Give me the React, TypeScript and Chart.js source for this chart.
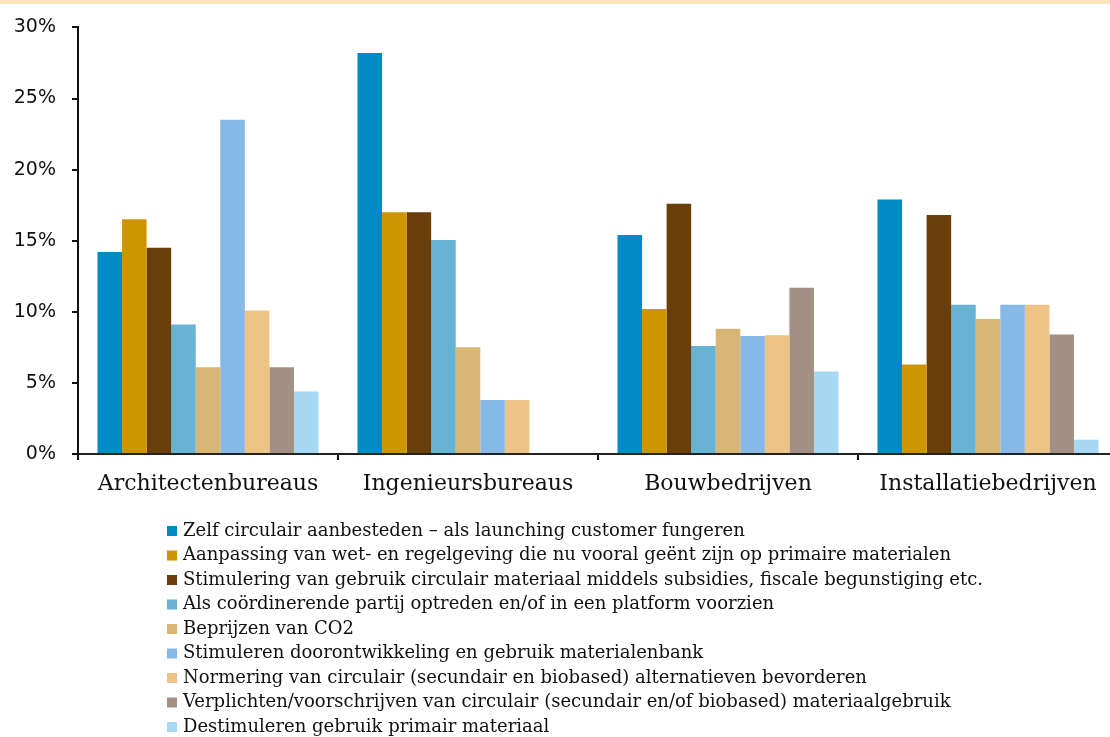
import React, { useEffect, useRef } from "react";
import { Chart, registerables } from "chart.js";

Chart.register(...registerables);

const categories = ["Architectenbureaus", "Ingenieursbureaus", "Bouwbedrijven", "Installatiebedrijven"];

const seriesLabels = [
  "Zelf circulair aanbesteden – als launching customer fungeren",
  "Aanpassing van wet- en regelgeving die nu vooral geënt zijn op primaire materialen",
  "Stimulering van gebruik circulair materiaal middels subsidies, fiscale begunstiging etc.",
  "Als coördinerende partij optreden en/of in een platform voorzien",
  "Beprijzen van CO2",
  "Stimuleren doorontwikkeling en gebruik materialenbank",
  "Normering van circulair (secundair en biobased) alternatieven bevorderen",
  "Verplichten/voorschrijven van circulair (secundair en/of biobased) materiaalgebruik",
  "Destimuleren gebruik primair materiaal",
];

const zelfAanbesteden = [14.2, 28.2, 15.4, 17.9];
const wetgeving = [16.5, 17.0, 10.2, 6.3];
const subsidies = [14.5, 17.0, 17.6, 16.8];
const platform = [9.1, 15.05, 7.6, 10.5];
const co2 = [6.1, 7.5, 8.8, 9.5];
const materialenbank = [23.5, 3.8, 8.3, 10.5];
const normering = [10.1, 3.8, 8.35, 10.5];
const verplichten = [6.1, 0, 11.7, 8.4];
const destimuleren = [4.4, 0, 5.8, 1.0];

const seriesColors = ["#008BC6", "#CF9500", "#693E08", "#66B3D4", "#D9B673", "#86B9E6", "#EEC386", "#A39084", "#A6D8F2"];

const yTicks = [0, 5, 10, 15, 20, 25, 30];

const seriesValues = [zelfAanbesteden, wetgeving, subsidies, platform, co2, materialenbank, normering, verplichten, destimuleren];

const legendPlugin = {
  id: "listLegend",
  afterDraw(chart: any) {
    const ctx = chart.ctx;
    ctx.save();
    ctx.fillStyle = "#FCE5BE";
    ctx.fillRect(0, 0, chart.width, 4);
    ctx.font = "18px 'DejaVu Serif'";
    ctx.textBaseline = "middle";
    ctx.textAlign = "left";
    chart.data.datasets.forEach((ds: any, i: number) => {
      const y = 531 + i * 24.5;
      ctx.fillStyle = ds.backgroundColor;
      ctx.fillRect(167, y - 5, 10, 10);
      ctx.fillStyle = "#111";
      ctx.fillText(ds.label, 183, y);
    });
    ctx.restore();
  },
};

export default function App() {
  const ref = useRef<HTMLCanvasElement | null>(null);
  useEffect(() => {
    if (!ref.current) return;
    const chart = new Chart(ref.current, {
      type: "bar",
      data: {
        labels: categories,
        datasets: seriesLabels.map((label, i) => ({
          label,
          data: seriesValues[i],
          backgroundColor: seriesColors[i],
          borderWidth: 0,
        })),
      },
      options: {
        responsive: false,
        animation: false,
        devicePixelRatio: 1,
        layout: { padding: { top: 26, left: 0, right: 0, bottom: 233 } },
        plugins: { legend: { display: false }, tooltip: { enabled: false } },
        datasets: { bar: { categoryPercentage: 0.85, barPercentage: 1 } },
        scales: {
          x: {
            grid: { display: true, drawOnChartArea: false, drawTicks: true, tickLength: 6, lineWidth: 2, color: "#111", offset: true },
            border: { display: true, color: "#222", width: 2 },
            ticks: { color: "#111", font: { family: "'DejaVu Serif'", size: 22 }, padding: 11, maxRotation: 0 },
            afterFit: (s: any) => { s.height = 50; },
          },
          y: {
            min: 0,
            max: 30,
            afterBuildTicks: (s: any) => { s.ticks = yTicks.map((v) => ({ value: v })); },
            grid: { display: true, drawOnChartArea: false, drawTicks: true, tickLength: 6, lineWidth: 2, color: "#111" },
            border: { display: true, color: "#111", width: 2 },
            ticks: { color: "#111", font: { family: "'DejaVu Sans'", size: 19 }, padding: 16, callback: (v: any) => v + "%" },
            afterFit: (s: any) => { s.width = 78; },
          },
        },
      },
      plugins: [legendPlugin],
    });
    return () => chart.destroy();
  }, []);
  return (
    <div style={{ position: "fixed", left: 0, top: 0, width: 1110, height: 737, overflow: "hidden", background: "#fff" }}>
      <canvas ref={ref} width={1118} height={737} style={{ width: 1118, height: 737, display: "block" }} />
    </div>
  );
}
